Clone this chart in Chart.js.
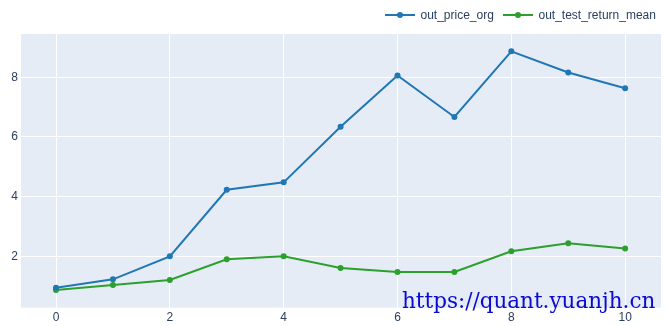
<!DOCTYPE html>
<html>
<head>
<meta charset="utf-8">
<script src="https://cdn.jsdelivr.net/npm/chart.js@4/dist/chart.umd.min.js"></script>
<style>
html,body{margin:0;padding:0;background:#fff;}
#wrap{position:relative;width:668px;height:326px;}
#wm{position:absolute;left:402px;top:290px;font-family:"DejaVu Serif",serif;font-size:21.5px;color:#0a0ad0;white-space:nowrap;line-height:1;}
</style>
</head>
<body>
<div id="wrap"><canvas id="c"></canvas><div id="wm">https://quant.yuanjh.cn</div></div>
<script>
const xValues = [0,1,2,3,4,5,6,7,8,9,10];
const priceOrg = [0.95,1.23,2.00,4.23,4.48,6.34,8.06,6.67,8.87,8.16,7.63];
const testReturnMean = [0.87,1.04,1.21,1.90,2.00,1.61,1.48,1.48,2.17,2.44,2.26];
const seriesNames = ['out_price_org','out_test_return_mean'];
const seriesColors = ['#1f77b4','#2ca02c'];
const xTicks = [0,2,4,6,8,10];
const yTicks = [2,4,6,8];

const FONT = '"Liberation Sans", Arial, sans-serif';
const TICK_COLOR = '#2a3f5f';

const bgPlugin = {
  id:'bg',
  beforeDraw(chart){
    const {ctx, chartArea:a} = chart;
    ctx.save();
    ctx.fillStyle = '#E5ECF6';
    ctx.fillRect(a.left, a.top, a.right-a.left, a.bottom-a.top);
    ctx.restore();
  }
};

const legendPlugin = {
  id:'customLegend',
  afterDraw(chart){
    const ctx = chart.ctx;
    const items = [{x0:385, tx:420.5},{x0:503, tx:538.5}];
    ctx.save();
    chart.data.datasets.forEach((ds,i)=>{
      const it = items[i];
      const y = 15;
      ctx.strokeStyle = ds.borderColor;
      ctx.lineWidth = 2;
      ctx.beginPath(); ctx.moveTo(it.x0, y); ctx.lineTo(it.x0+30, y); ctx.stroke();
      ctx.fillStyle = ds.borderColor;
      ctx.beginPath(); ctx.arc(it.x0+15, y, 3, 0, Math.PI*2); ctx.fill();
      ctx.fillStyle = TICK_COLOR;
      ctx.font = '12px ' + FONT;
      ctx.textBaseline = 'middle';
      ctx.textAlign = 'left';
      ctx.fillText(ds.label, it.tx, y+0.5);
    });
    ctx.restore();
  }
};

new Chart(document.getElementById('c'), {
  type:'line',
  data:{
    datasets:[
      {label:seriesNames[0], data:xValues.map((x,i)=>({x, y:priceOrg[i]})), borderColor:seriesColors[0], backgroundColor:seriesColors[0], borderWidth:2, pointRadius:3, pointHoverRadius:3, pointBorderWidth:0, tension:0},
      {label:seriesNames[1], data:xValues.map((x,i)=>({x, y:testReturnMean[i]})), borderColor:seriesColors[1], backgroundColor:seriesColors[1], borderWidth:2, pointRadius:3, pointHoverRadius:3, pointBorderWidth:0, tension:0}
    ]
  },
  options:{
    responsive:true,
    maintainAspectRatio:false,
    animation:false,
    layout:{padding:{top:34, right:7, left:0, bottom:0}},
    plugins:{legend:{display:false}, tooltip:{enabled:false}},
    scales:{
      x:{
        type:'linear', min:-0.615, max:10.63,
        afterBuildTicks(s){ s.ticks = xTicks.map(v=>({value:v})); },
        afterFit(s){ s.height = 18.3; },
        grid:{color:'#ffffff', lineWidth:1, drawTicks:false},
        border:{display:false},
        ticks:{color:TICK_COLOR, font:{family:FONT, size:12}, padding:3, maxRotation:0, autoSkip:false}
      },
      y:{
        type:'linear', min:0.28, max:9.45,
        afterBuildTicks(s){ s.ticks = yTicks.map(v=>({value:v})); },
        afterFit(s){ s.width = 21; },
        grid:{color:'#ffffff', lineWidth:1, drawTicks:false},
        border:{display:false},
        ticks:{color:TICK_COLOR, font:{family:FONT, size:12}, padding:3}
      }
    }
  },
  plugins:[bgPlugin, legendPlugin]
});
</script>
</body>
</html>
